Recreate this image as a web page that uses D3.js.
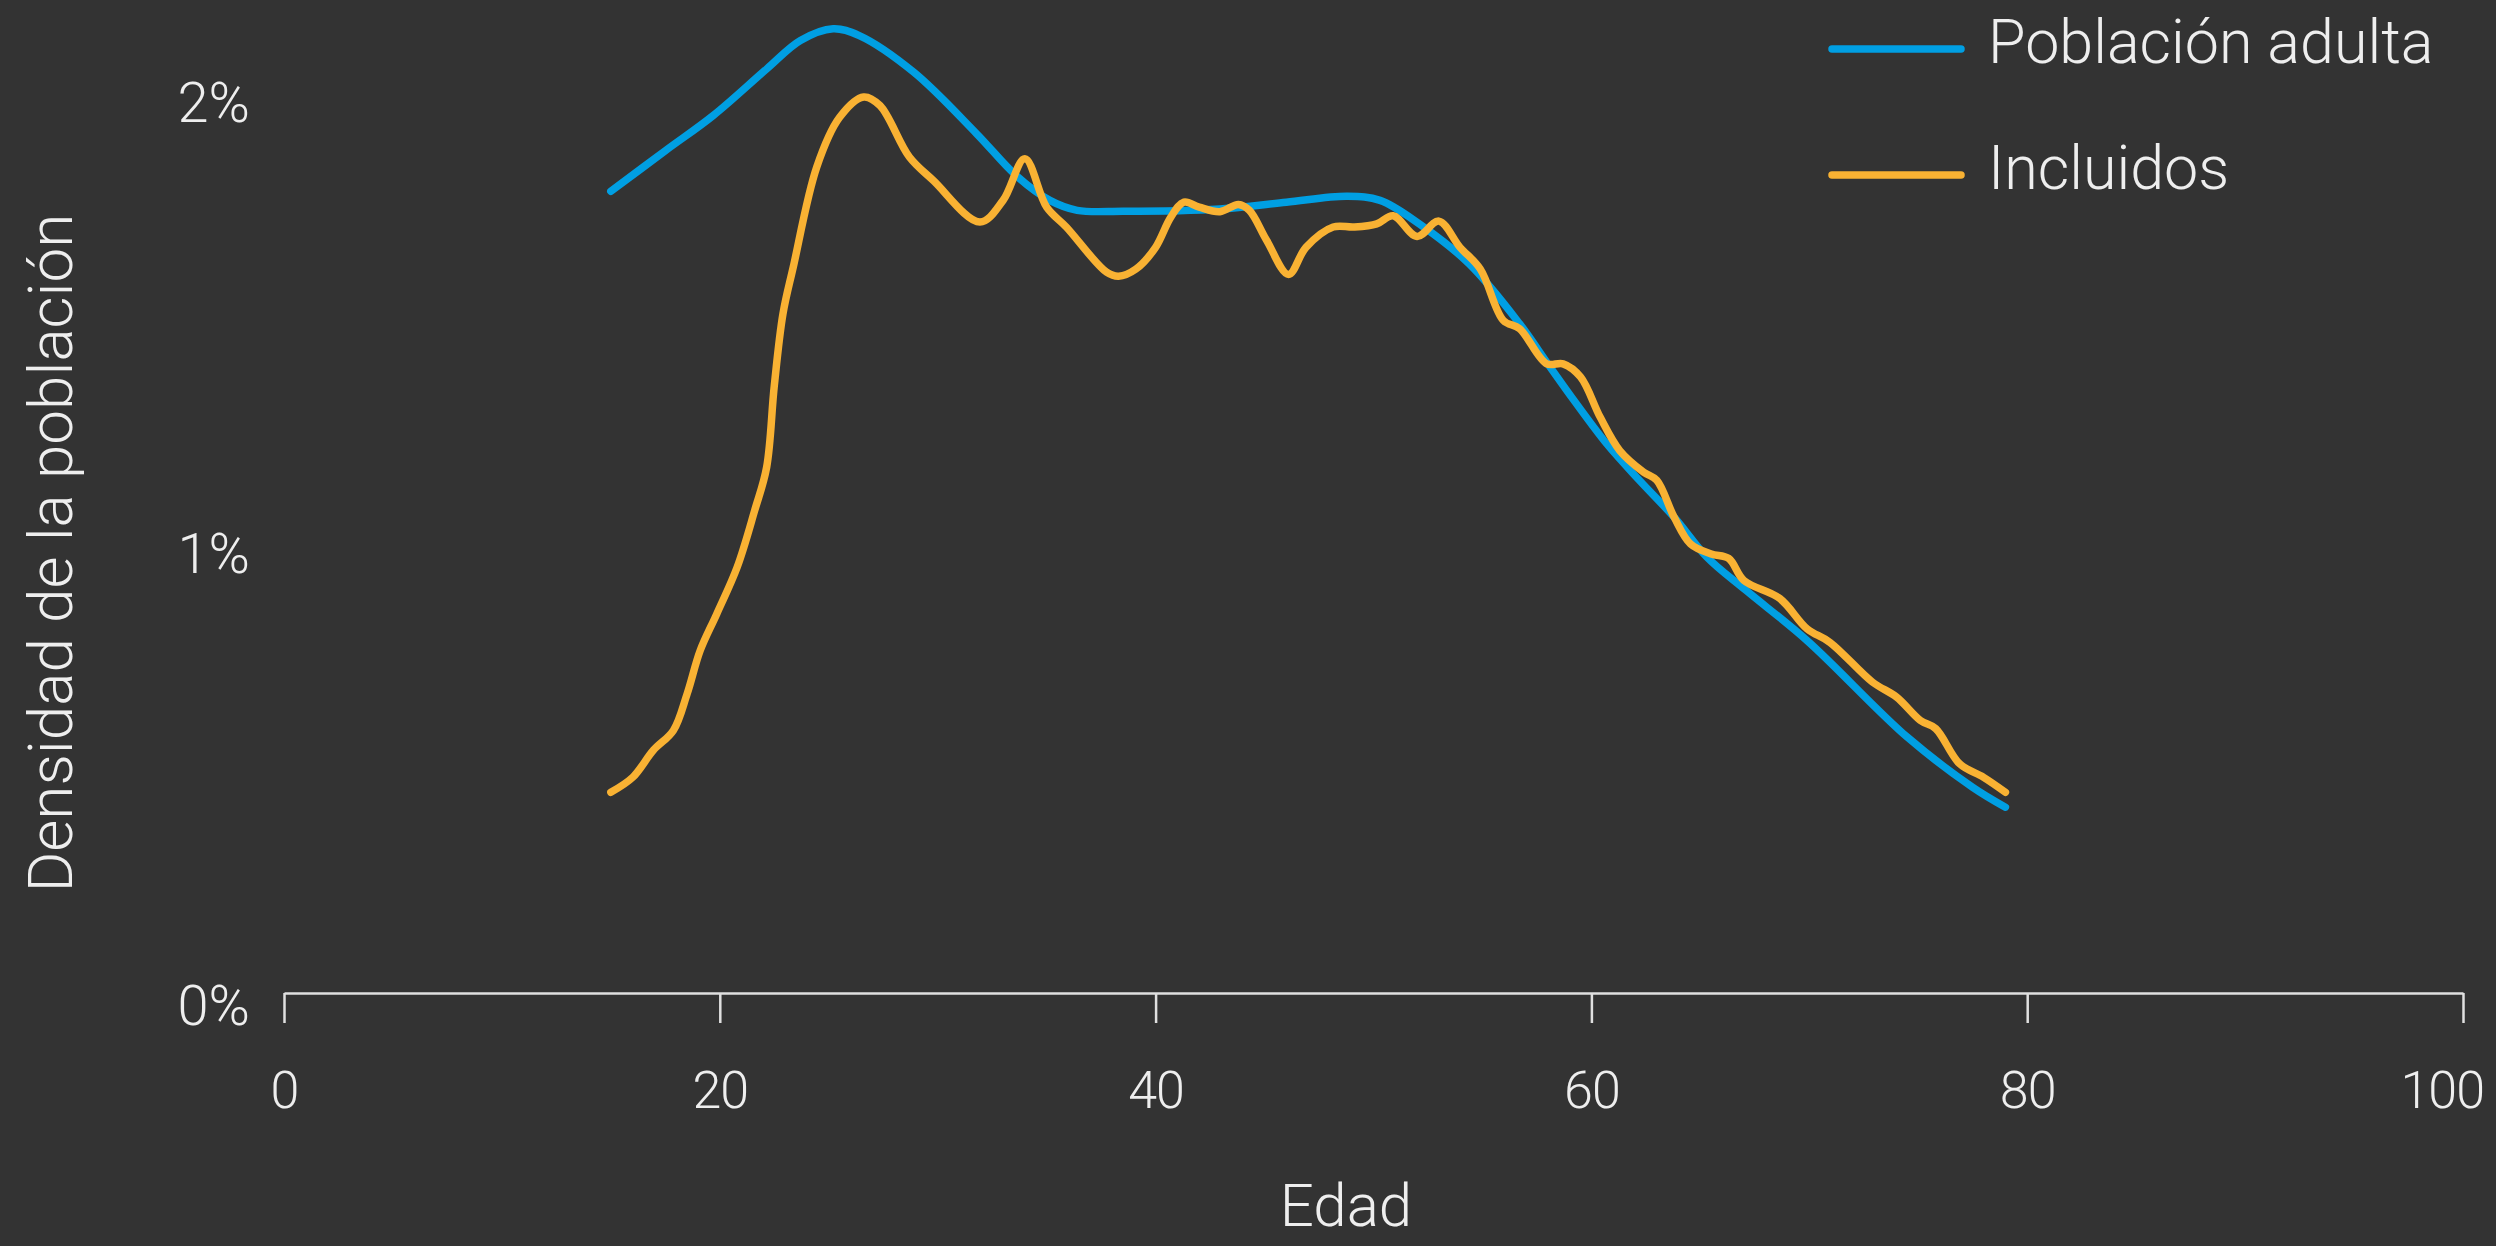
<!DOCTYPE html>
<html>
<head>
<meta charset="utf-8">
<script src="https://cdn.jsdelivr.net/npm/d3@7"></script>
<style>
  html, body { margin: 0; padding: 0; background: #333333; }
  svg { display: block; }
  text { font-family: Roboto, "Open Sans", sans-serif; font-weight: 300; fill: #eeeeee; }
</style>
</head>
<body>
<svg id="chart" width="2496" height="1246"></svg>
<script>
// ---- data ----
const seriesNames = ["Población adulta", "Incluidos"];
const seriesColors = ["#009fe3", "#f9b233"];

const poblacionAge = [15.0, 17.5, 19.7, 22.15, 23.7, 25.2, 26.4, 28.9, 31.8, 33.6, 35.15, 36.4, 38.5, 42.95, 46.0, 48.8, 50.3, 52.1, 54.4, 56.7, 58.0, 59.2, 60.7, 62.2, 63.8, 65.3, 67.1, 69.9, 74.5, 77.5, 79.0];
const poblacionValue = [1.801, 1.891, 1.969, 2.072, 2.135, 2.161, 2.146, 2.065, 1.928, 1.836, 1.781, 1.759, 1.757, 1.762, 1.777, 1.790, 1.781, 1.729, 1.640, 1.508, 1.419, 1.338, 1.242, 1.161, 1.079, 0.991, 0.917, 0.806, 0.592, 0.481, 0.437];

const incluidosAge = [15.0, 16.0, 16.95, 17.87, 18.5, 19.1, 19.86, 20.8, 21.6, 22.15, 22.5, 22.9, 23.37, 24.45, 25.5, 26.6, 27.35, 28.7, 29.8, 31.94, 33.0, 34.0, 35.0, 35.9, 37.75, 38.3, 39.1, 40.0, 40.7, 41.3, 42.0, 42.95, 43.8, 44.3, 45.1, 46.1, 46.9, 48.15, 49.1, 50.15, 50.9, 52.0, 53.0, 53.97, 54.9, 55.96, 56.7, 57.95, 58.7, 59.5, 60.4, 61.3, 62.4, 63.0, 63.8, 64.55, 65.5, 66.3, 67.0, 68.65, 69.9, 70.95, 72.9, 74.0, 75.1, 75.8, 76.9, 78.0, 79.0];
const incluidosValue = [0.470, 0.503, 0.563, 0.607, 0.688, 0.784, 0.865, 0.969, 1.094, 1.190, 1.370, 1.530, 1.633, 1.855, 1.965, 2.010, 1.991, 1.877, 1.825, 1.733, 1.781, 1.873, 1.766, 1.722, 1.622, 1.613, 1.629, 1.677, 1.744, 1.777, 1.766, 1.756, 1.772, 1.759, 1.692, 1.617, 1.677, 1.722, 1.722, 1.729, 1.747, 1.701, 1.735, 1.677, 1.629, 1.515, 1.497, 1.419, 1.419, 1.390, 1.301, 1.227, 1.179, 1.161, 1.079, 1.020, 0.998, 0.988, 0.939, 0.899, 0.832, 0.802, 0.714, 0.681, 0.629, 0.611, 0.533, 0.503, 0.470];

const xTicks = [0, 20, 40, 60, 80, 100];
const yTicks = [0, 1, 2];
const yTickLabels = ["0%", "1%", "2%"];
const xTitle = "Edad";
const yTitle = "Densidad de la población";

// ---- layout ----
const W = 2496;
const svg = d3.select("#chart");
const x = d3.scaleLinear().domain([0, 100]).range([284, 2463]);
const y = d3.scaleLinear().domain([0, 2]).range([1004.5, 101.5]);
const axisY = 993;

// x axis
const xAxis = d3.axisBottom(x).tickValues(xTicks).tickSize(30).tickPadding(52).tickSizeOuter(0).tickFormat(d3.format("d"));
const gx = svg.append("g").attr("transform", `translate(0,${axisY})`).call(xAxis);
gx.select(".domain").attr("stroke", "#e0e0e0").attr("stroke-width", 2.5);
gx.selectAll(".tick line").attr("stroke", "#e0e0e0").attr("stroke-width", 2.5);
gx.selectAll(".tick text")
  .attr("fill", "#eeeeee")
  .style("font-family", "Roboto, sans-serif")
  .style("font-weight", 300)
  .style("font-size", "52px")
  .style("letter-spacing", "-1px")
  .attr("dy", null)
  .attr("y", 115)
  .each(function () {
    // keep the label inside the canvas
    const b = this.getBBox();
    const tx = +this.parentNode.getAttribute("transform").match(/translate\(([-\d.]+)/)[1];
    const over = tx + b.x + b.width - (W - 12);
    if (over > 0) d3.select(this).attr("dx", -over);
  });

// y tick labels (no axis line)
svg.append("g").selectAll("text")
  .data(yTicks)
  .join("text")
  .attr("x", 250)
  .attr("y", d => y(d))
  .attr("dy", "0.36em")
  .attr("text-anchor", "end")
  .style("font-size", "56px")
  .text((d, i) => yTickLabels[i]);

// titles
svg.append("text")
  .attr("x", 1346).attr("y", 1226)
  .attr("text-anchor", "middle")
  .style("font-size", "60px")
  .text(xTitle);

svg.append("text")
  .attr("transform", `translate(72,${y(1)}) rotate(-90)`)
  .attr("text-anchor", "middle")
  .style("font-size", "62px")
  .text(yTitle);

// lines
const line = d3.line()
  .x(d => x(d[0]))
  .y(d => y(d[1]))
  .curve(d3.curveCatmullRom.alpha(0.5));

const series = [
  d3.zip(poblacionAge, poblacionValue),
  d3.zip(incluidosAge, incluidosValue)
];

svg.append("g").selectAll("path")
  .data(series)
  .join("path")
  .attr("d", line)
  .attr("fill", "none")
  .attr("stroke", (d, i) => seriesColors[i])
  .attr("stroke-width", 7.5)
  .attr("stroke-linecap", "round")
  .attr("stroke-linejoin", "round");

// legend
const legend = svg.append("g");
const legendY = [49, 175];
seriesNames.forEach((name, i) => {
  legend.append("line")
    .attr("x1", 1832).attr("x2", 1961)
    .attr("y1", legendY[i]).attr("y2", legendY[i])
    .attr("stroke", seriesColors[i])
    .attr("stroke-width", 7.5)
    .attr("stroke-linecap", "round");
  legend.append("text")
    .attr("x", 1988)
    .attr("y", legendY[i] + 14)
    .style("font-size", "61px")
    .text(name);
});
</script>
</body>
</html>
